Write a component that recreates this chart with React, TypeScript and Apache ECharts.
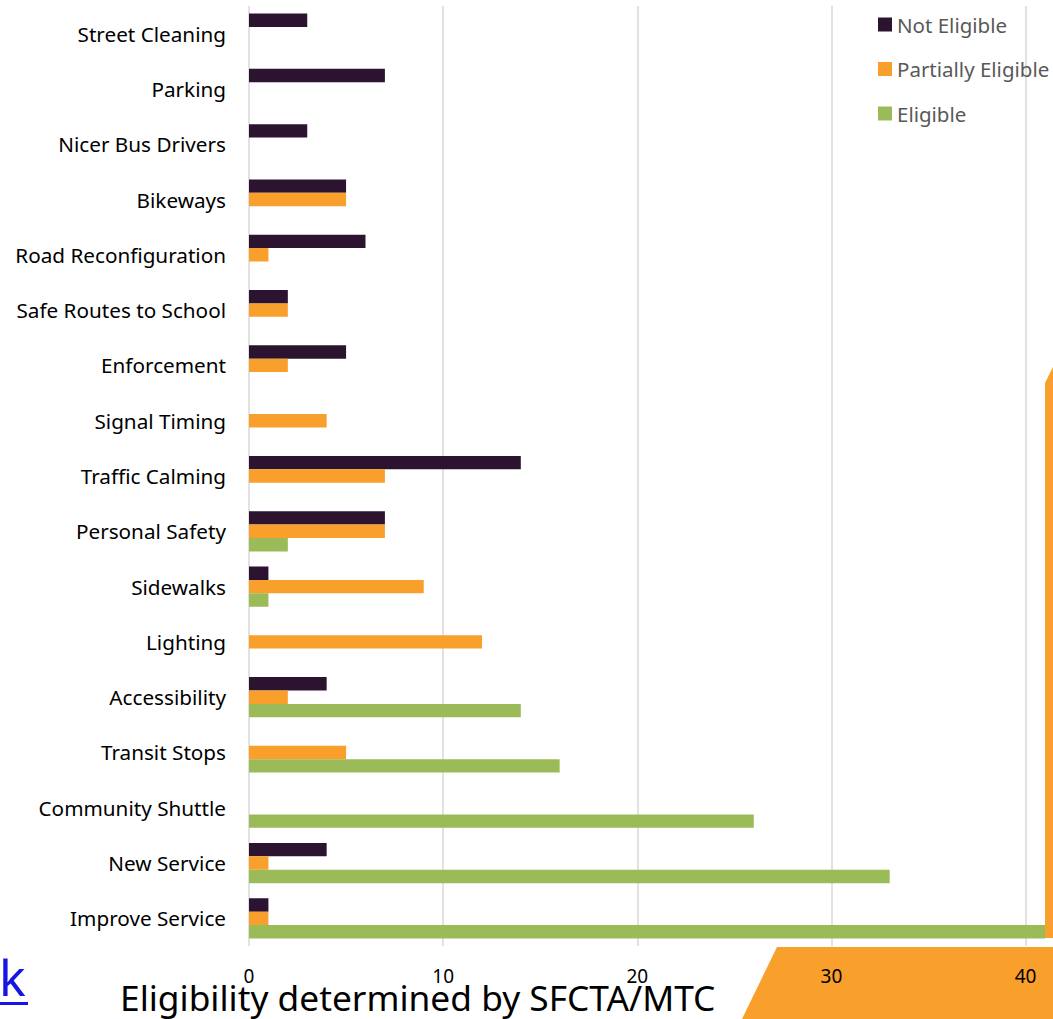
import React, { useEffect, useRef } from "react";
import * as echarts from "echarts";

const categories = [
  "Street Cleaning",
  "Parking",
  "Nicer Bus Drivers",
  "Bikeways",
  "Road Reconfiguration",
  "Safe Routes to School",
  "Enforcement",
  "Signal Timing",
  "Traffic Calming",
  "Personal Safety",
  "Sidewalks",
  "Lighting",
  "Accessibility",
  "Transit Stops",
  "Community Shuttle",
  "New Service",
  "Improve Service",
];
const notEligible = [3, 7, 3, 5, 6, 2, 5, 0, 14, 7, 1, 0, 4, 0, 0, 4, 1];
const partiallyEligible = [0, 0, 0, 5, 1, 2, 2, 4, 7, 7, 9, 12, 2, 5, 0, 1, 1];
const eligible = [0, 0, 0, 0, 0, 0, 0, 0, 0, 2, 1, 0, 14, 16, 26, 33, 42];
const seriesNames = ["Not Eligible", "Partially Eligible", "Eligible"];
const colors = ["#2c1330", "#f89f2c", "#9bbb59"];
const xTicks = [0, 10, 20, 30, 40];
const titleText = "Eligibility determined by SFCTA/MTC";
const linkText = "k";

const FONT = "'Noto Sans', 'Open Sans', sans-serif";

export default function App() {
  const ref = useRef<HTMLDivElement>(null);
  useEffect(() => {
    if (!ref.current) return;
    const chart = echarts.init(ref.current, undefined, { renderer: "svg" });
    const data = [notEligible, partiallyEligible, eligible];
    chart.setOption({
      animation: false,
      backgroundColor: "#ffffff",
      textStyle: { fontFamily: FONT },
      grid: { left: 249, right: 8, top: 6, bottom: 73, containLabel: false },
      legend: {
        orient: "vertical",
        left: 873,
        top: 9,
        itemWidth: 14,
        itemHeight: 14,
        itemGap: 23.5,
        icon: "rect",
        data: seriesNames,
        textStyle: { color: "#595959", fontSize: 20.5, fontFamily: FONT },
      },
      xAxis: {
        type: "value",
        min: 0,
        max: 41,
        interval: 10,
        axisLine: { show: false },
        axisTick: { show: false },
        splitLine: {
          show: true,
          showMaxLine: false,
          lineStyle: { color: "#d9d9d9", width: 1.5 },
        },
        axisLabel: {
          color: "#000000",
          fontSize: 19,
          fontFamily: FONT,
          margin: 20,
          showMaxLabel: false,
          formatter: (v: number) => (xTicks.indexOf(v) >= 0 ? String(v) : ""),
        },
      },
      yAxis: {
        type: "category",
        inverse: true,
        data: categories,
        axisLine: { show: false },
        axisTick: { show: false },
        splitLine: { show: false },
        axisLabel: {
          color: "#000000",
          fontSize: 20.7,
          fontFamily: FONT,
          margin: 23,
          padding: [0, 0, 5, 0],
        },
      },
      series: seriesNames.map((name, i) => ({
        name,
        type: "bar",
        data: data[i],
        barWidth: 13.4,
        barGap: "0%",
        clip: true,
        itemStyle: { color: colors[i] },
      })),
      graphic: [
        {
          type: "polygon",
          z: -10,
          silent: true,
          shape: {
            points: [
              [777, 947],
              [1053, 947],
              [1053, 1019],
              [742, 1019],
            ],
          },
          style: { fill: "#f89f2c" },
        },
        {
          type: "polygon",
          z: 50,
          silent: true,
          shape: {
            points: [
              [1045, 383],
              [1053, 367],
              [1053, 938],
              [1045, 938],
            ],
          },
          style: { fill: "#f89f2c" },
        },
        {
          type: "text",
          z: 100,
          x: 120,
          y: 997,
          style: {
            text: titleText,
            fontSize: 35.3,
            fontFamily: FONT,
            fill: "#000000",
            verticalAlign: "middle",
            align: "left",
          },
        },
        {
          type: "text",
          z: 100,
          x: -1,
          y: 977,
          style: {
            text: linkText,
            fontSize: 50,
            fontFamily: FONT,
            fill: "#1515e6",
            verticalAlign: "middle",
            align: "left",
          },
        },
        {
          type: "rect",
          z: 100,
          shape: { x: 0, y: 1002, width: 28, height: 3 },
          style: { fill: "#1515e6" },
        },
      ],
    });
    return () => chart.dispose();
  }, []);
  return (
    <div
      ref={ref}
      style={{ position: "fixed", left: 0, top: 0, width: 1053, height: 1019 }}
    />
  );
}
